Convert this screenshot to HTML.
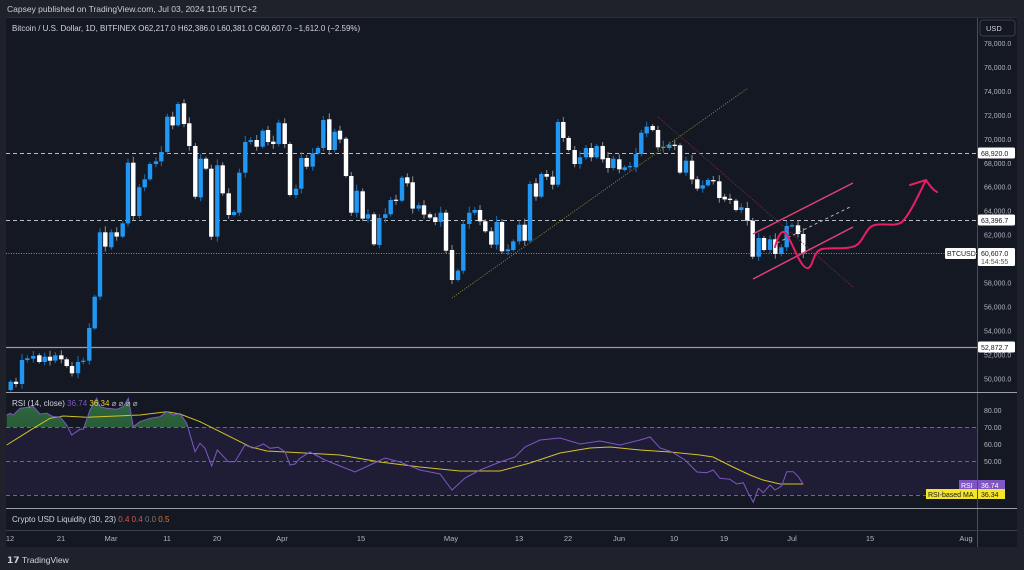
<!DOCTYPE html>
<html><head><meta charset="utf-8">
<style>
html,body{margin:0;padding:0;background:#1e222d;width:1024px;height:570px;overflow:hidden}
svg{display:block;font-family:"Liberation Sans",sans-serif}
</style></head><body>
<svg id="s" width="1024" height="570" xmlns="http://www.w3.org/2000/svg">
<rect width="1024" height="570" fill="#1f222b"/>
<rect x="6" y="18" width="1011" height="529" fill="#141823"/>
<text x="7" y="12" fill="#c9ccd4" font-size="8.5">Capsey published on TradingView.com, Jul 03, 2024 11:05 UTC+2</text>
<line x1="6" y1="17.5" x2="1017" y2="17.5" stroke="#2a2e39"/>
<!-- RSI band -->
<rect x="6" y="427" width="971" height="68" fill="#1e1d35"/>
<g id="g"></g>
<!-- axis -->
<line x1="977.5" y1="18" x2="977.5" y2="547" stroke="#4a4e59"/>
<line x1="6" y1="392.5" x2="1017" y2="392.5" stroke="#9a9da5"/>
<line x1="6" y1="508.5" x2="1017" y2="508.5" stroke="#9a9da5"/>
<line x1="6" y1="530.5" x2="1017" y2="530.5" stroke="#3a3e49"/>
<rect x="980" y="20" width="35" height="16" rx="3" fill="#141823" stroke="#3a3e49"/>
<text x="986" y="31" fill="#d1d4dc" font-size="7.5">USD</text>
<text x="12" y="31" fill="#d1d4dc" font-size="8">Bitcoin / U.S. Dollar, 1D, BITFINEX  O62,217.0  H62,386.0  L60,381.0  C60,607.0  −1,612.0 (−2.59%)</text>
<text x="12" y="406" font-size="8"><tspan fill="#d1d4dc">RSI (14, close) </tspan><tspan fill="#7e57c2">36.74 </tspan><tspan fill="#e6d230">36.34</tspan><tspan fill="#b2b5be"> ⌀ ⌀ ⌀ ⌀</tspan></text>
<text x="12" y="522" font-size="8"><tspan fill="#d1d4dc">Crypto USD Liquidity (30, 23) </tspan><tspan fill="#d9534f">0.4 </tspan><tspan fill="#d9534f">0.4 </tspan><tspan fill="#777">0.0 </tspan><tspan fill="#e8742a">0.5</tspan></text>
<text x="7" y="563" fill="#d1d4dc" font-size="9" font-weight="bold">𝟭𝟳</text>
<text x="22" y="563" fill="#d1d4dc" font-size="8.5">TradingView</text>
</svg>
<script>
var g=document.getElementById('g'),h='';
function L(x1,y1,x2,y2,c,w,d){h+='<line x1="'+x1+'" y1="'+y1+'" x2="'+x2+'" y2="'+y2+'" stroke="'+c+'" stroke-width="'+(w||1)+'"'+(d?' stroke-dasharray="'+d+'"':'')+'/>';}
function T(x,y,t,c,s,a){h+='<text x="'+x+'" y="'+y+'" fill="'+c+'" font-size="'+(s||7.5)+'"'+(a?' text-anchor="'+a+'"':'')+'>'+t+'</text>';}
// RSI dashed levels
L(6,427.5,977,427.5,'#6a6d78',1,'4 3');L(6,461.5,977,461.5,'#6a6d78',1,'4 3');L(6,495.5,977,495.5,'#6a6d78',1,'4 3');
// price lines
L(6,153.5,977,153.5,'#b8bbc2',1,'4 3');L(6,220.5,977,220.5,'#b8bbc2',1,'4 3');
L(6,253.5,977,253.5,'#8a8d96',1,'1 1.5');L(6,347.5,977,347.5,'#9a9da5',1.2);
// candles
var A=[[32,905,930,'b'],[48,905,912,'w'],[66,840,912,'b'],[82,835,840,'b'],[100,828,836,'b'],[118,826,846,'w'],[134,830,846,'b'],[150,830,842,'w'],[166,826,842,'b'],[184,826,838,'w'],[200,838,858,'w'],[216,858,880,'w'],[234,846,880,'b'],[250,842,846,'b'],[268,744,842,'b'],[284,650,745,'b'],[300,457,650,'b'],[316,457,500,'w'],[334,457,502,'b'],[350,457,470,'w'],[368,430,470,'b'],[384,248,430,'b'],[400,248,408,'w'],[418,322,408,'b'],[434,298,322,'b'],[450,252,298,'b'],[468,244,252,'b'],[484,216,244,'b'],[502,110,216,'b'],[518,110,136,'w'],[534,72,136,'b'],[552,70,132,'w'],[568,130,198,'w'],[586,198,350,'w'],[602,236,352,'b'],[618,236,266,'w'],[634,266,470,'w'],[652,256,470,'b'],[668,256,340,'w'],[686,340,405,'w'],[702,396,405,'b'],[718,278,398,'b'],[736,186,278,'b'],[752,180,186,'b'],[770,180,200,'w'],[788,152,200,'b'],[804,150,186,'w'],[820,185,192,'w'],[836,128,192,'b'],[854,130,192,'w'],[870,192,345,'w'],[888,326,345,'b'],[904,234,326,'b'],[920,234,260,'w'],[938,220,260,'b'],[954,204,220,'b'],[970,120,204,'b'],[988,118,210,'w'],[1004,155,210,'b'],[1020,152,178,'w'],[1038,176,288,'w'],[1054,288,398,'w'],[1070,332,398,'b'],[1088,334,416,'w'],[1104,403,416,'b'],[1122,403,493,'w'],[1138,414,495,'b'],[1156,403,414,'b'],[1172,360,403,'b'],[1188,359,362,'w'],[1206,293,362,'b'],[1222,292,310,'w'],[1238,307,386,'w'],[1256,376,386,'b'],[1272,376,404,'w'],[1290,403,413,'w'],[1306,412,426,'w'],[1322,398,426,'b'],[1338,398,512,'w']];
var B=[[36,510,600,'w'],[54,572,600,'b'],[70,432,572,'b'],[88,398,432,'b'],[104,390,398,'b'],[120,390,424,'w'],[136,424,454,'w'],[154,454,494,'w'],[170,426,494,'b'],[186,426,514,'w'],[204,508,514,'b'],[220,484,510,'b'],[238,434,484,'b'],[254,434,482,'w'],[270,312,482,'b'],[288,310,350,'w'],[304,282,350,'b'],[320,282,290,'w'],[338,290,314,'w'],[354,126,314,'b'],[370,126,174,'w'],[386,174,210,'w'],[404,210,252,'w'],[420,232,252,'b'],[438,204,232,'b'],[454,204,232,'w'],[470,198,232,'b'],[488,198,238,'w'],[504,234,264,'w'],[520,236,264,'b'],[538,238,268,'w'],[554,262,270,'b'],[570,258,262,'b'],[588,222,262,'b'],[604,158,222,'b'],[620,140,160,'b'],[638,138,150,'w'],[654,150,202,'w'],[670,200,204,'b'],[688,194,204,'b'],[704,194,198,'w'],[720,196,278,'w'],[738,242,278,'b'],[756,242,298,'w'],[772,298,326,'w'],[788,316,326,'b'],[804,300,316,'b'],[820,300,304,'w'],[838,304,354,'w'],[854,350,358,'w'],[870,356,360,'w'],[888,362,390,'w'],[904,382,390,'b'],[922,384,422,'w'],[938,422,530,'w'],[956,474,530,'b'],[972,474,510,'w'],[990,478,510,'b'],[1006,478,522,'w'],[1024,502,522,'b'],[1040,438,502,'b'],[1056,436,438,'b'],[1074,436,462,'w'],[1090,462,520,'w']];
var C=[];A.forEach(function(a){C.push([a[0]/3,80+a[1]/3,80+a[2]/3,a[3]]);});
B.forEach(function(a){C.push([440+a[0]/3,80+a[1]/3,80+a[2]/3,a[3]]);});
C.forEach(function(c,i){var x=c[0],t=c[1],b=c[2];var e=2+((i*7)%5);var blue=c[3]=='b';
L(x.toFixed(1),(t-e).toFixed(1),x.toFixed(1),(b+e*0.8).toFixed(1),blue?'#1f6fb5':'#8c8f96',1);
h+='<rect x="'+(x-2.2).toFixed(1)+'" y="'+t.toFixed(1)+'" width="4.4" height="'+Math.max(1.2,b-t).toFixed(1)+'" fill="'+(blue?'#2196f3':'#ffffff')+'"/>';});
// drawings
L(452,298,748,88,'#8a8a3a',1,'1 1.5');
L(658,117,853,287,'#8a2a45',1,'1 1.5');
L(753,234,853,183,'#e0407a',1.5);L(753,279,853,227,'#e0407a',1.5);
L(777,243,852,206,'#b0b3ba',1,'3 3');
h+='<path d="M775,247 C778,236 781,231 784,232 C790,234 800,270 808,268 C814,266 812,252 822,249 C832,247 845,250 855,246 C863,243 866,226 875,225 C885,223 895,227 902,222 C910,214 918,196 926,180 M910,185 L926,180 C930,186 933,190 937,192" fill="none" stroke="#e91e63" stroke-width="2" stroke-linecap="round"/>';
// RSI
function pts(a){return a.map(function(p){return p[0].toFixed(1)+','+p[1].toFixed(1)}).join(' ');}
var P=[[20,75],[30,70],[40,75],[60,55],[100,50],[120,72],[140,70],[160,80],[180,80],[200,105],[215,135],[240,118],[250,118],[270,60],[290,25],[300,50],[320,55],[350,58],[370,50],[385,25],[400,110],[420,95],[450,85],[480,80],[500,65],[520,75],[540,70],[560,100],[585,185],[600,160],[615,175],[635,228],[652,180],[685,215],[705,215],[735,165],[760,175],[790,162],[810,175],[835,172],[855,185],[870,225],[885,222],[900,205]].map(function(p){return [p[0]/3,390+p[1]/3]});
P=P.concat([[310,452],[325,460],[340,466],[355,472],[370,465],[385,458],[400,462],[420,470],[440,474],[452,490],[465,478],[480,470],[500,462],[515,457],[525,447],[540,440],[560,438],[580,444],[600,441],[620,445],[640,440],[650,437],[660,448],[672,452],[685,460],[697,472]]);
var Q=[[20,278],[40,270],[60,295],[90,298],[110,312],[130,308],[145,340],[160,367],[175,325],[190,338],[210,315],[225,330],[245,318],[260,275],[280,275],[295,290],[310,313]].map(function(p){return [700+p[0]/3,380+p[1]/3]});
P=P.concat(Q);
var Y=[[20,165],[60,140],[100,115],[150,85],[190,78],[260,82],[350,78],[420,75],[500,65],[540,72],[600,95],[640,115],[700,145],[750,170],[800,183],[900,188]].map(function(p){return [p[0]/3,390+p[1]/3]});
Y=Y.concat([[340,455],[380,462],[420,467],[460,471],[500,471],[530,463],[560,453],[590,448],[610,447],[640,450],[670,452],[700,455],[713,457],[733,467],[750,475],[763,480],[780,484],[803,484]]);
h+='<defs><clipPath id="ob"><rect x="0" y="392" width="980" height="35"/></clipPath><linearGradient id="gg" x1="0" y1="0" x2="0" y2="1"><stop offset="0" stop-color="#2e6b3e"/><stop offset="1" stop-color="#1b3326"/></linearGradient></defs>';
h+='<polygon clip-path="url(#ob)" points="'+pts([[P[0][0],427]].concat(P).concat([[P[P.length-1][0],427]]))+'" fill="url(#gg)"/>';
h+='<polyline points="'+pts(Y)+'" fill="none" stroke="#d4c22a" stroke-width="1"/>';
h+='<polyline points="'+pts(P)+'" fill="none" stroke="#7e57c2" stroke-width="1"/>';
// price axis
var pr=['78,000.0','76,000.0','74,000.0','72,000.0','70,000.0','68,000.0','66,000.0','64,000.0','62,000.0','60,000.0','58,000.0','56,000.0','54,000.0','52,000.0','50,000.0'];
pr.forEach(function(t,i){var y=43+i*23.95;if(Math.abs(y-253)<10||Math.abs(y-153)<7||Math.abs(y-220)<7||Math.abs(y-347)<7)return;T(984,y+3,t,'#b2b5be',7);});
function lab(y,t){h+='<rect x="978" y="'+(y-5.5)+'" width="37" height="11" rx="1.5" fill="#fff"/>';T(981,y+3,t,'#131722',7);}
lab(153,'68,920.0');lab(220,'63,396.7');lab(347,'52,872.7');
h+='<rect x="978" y="248" width="37" height="18" rx="1.5" fill="#fff"/>';T(981,256,'60,607.0','#131722',7);T(981,264,'14:54:55','#555',7);
h+='<rect x="945" y="248" width="31" height="11" rx="1.5" fill="#fff"/>';T(947,256,'BTCUSD','#131722',7);
[['80.00',410],['70.00',427],['60.00',444],['50.00',461]].forEach(function(r){T(984,r[1]+3,r[0],'#b2b5be',7);});
h+='<rect x="959" y="480" width="19" height="10" fill="#7e57c2"/>';T(961,488,'RSI','#fff',7);
h+='<rect x="978" y="480" width="27" height="10" fill="#7e57c2"/>';T(981,488,'36.74','#fff',7);
h+='<rect x="926" y="489" width="52" height="10" fill="#f5e52a"/>';T(928,497,'RSI-based MA','#131722',7);
h+='<rect x="978" y="489" width="27" height="10" fill="#f5e52a"/>';T(981,497,'36.34','#131722',7);
// time axis
[['12',10],['21',61],['Mar',111],['11',167],['20',217],['Apr',282],['15',361],['May',451],['13',519],['22',568],['Jun',619],['10',674],['19',724],['Jul',792],['15',870],['Aug',966]].forEach(function(t){T(t[1],541,t[0],'#b2b5be',7.5,'middle');});
g.innerHTML=h;
</script>
</body></html>
